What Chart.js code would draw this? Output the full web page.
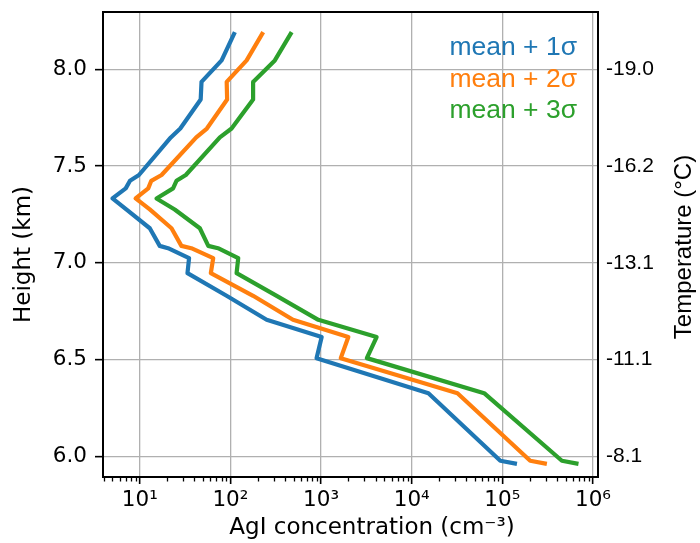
<!DOCTYPE html>
<html>
<head>
<meta charset="utf-8">
<script src="https://cdn.jsdelivr.net/npm/chart.js@4.4.1/dist/chart.umd.min.js"></script>
<style>
  html, body { margin: 0; padding: 0; background: #ffffff; }
  #wrap { width: 700px; height: 543px; }
</style>
</head>
<body>
<div id="wrap"><canvas id="chart" width="700" height="543"></canvas></div>
<script>
// Model levels (km) and AgI concentration profiles (cm^-3)
const heightsKm = [8.192, 8.046, 7.935, 7.844, 7.694, 7.648, 7.454, 7.424, 7.385, 7.333, 7.276,
                   7.179, 7.088, 7.076, 7.025, 6.947, 6.830, 6.706, 6.617, 6.508, 6.327, 5.978, 5.962];
const meanPlus1Sigma = [112, 80, 48, 47, 28, 22, 9.8, 7.8, 7.0, 5.0, 7.1,
                        12.9, 16.6, 20.5, 35, 33.6, 90.7, 251, 1016, 892, 15300, 95000, 145000];
const meanPlus2Sigma = [230, 151, 91, 92, 55, 42, 17.4, 13.4, 12.4, 9.0, 12.9,
                        22.4, 28.8, 37, 64.6, 60.8, 178, 490, 2000, 1650, 32000, 203000, 310000];
const meanPlus3Sigma = [474, 309, 178, 178, 103, 76.5, 32.2, 25.4, 23.3, 15.3, 24.3,
                        46, 57, 73, 122, 117, 324, 933, 4100, 3200, 63000, 454000, 692000];

const seriesLabels = ['mean + 1σ', 'mean + 2σ', 'mean + 3σ'];
const seriesColors = ['#1f77b4', '#ff7f0e', '#2ca02c'];

// Axis ticks and titles
const heightTicks = [6.0, 6.5, 7.0, 7.5, 8.0];
const temperatureLabels = ['-8.1', '-11.1', '-13.1', '-16.2', '-19.0'];
const concTicks = [1e1, 1e2, 1e3, 1e4, 1e5, 1e6];
const concTickLabels = ['10¹', '10²', '10³', '10⁴', '10⁵', '10⁶'];
const xTitle = 'AgI concentration (cm⁻³)';
const yTitle = 'Height (km)';
const y2Title = 'Temperature (°C)';

const X_MIN = 3.93, X_MAX = 1.136e6;
const Y_MIN = 5.894, Y_MAX = 8.296;

const DEJAVU = "'DejaVu Sans', sans-serif";
const ARIAL = "'Liberation Sans', Arial, sans-serif";

function profile(values) {
  return values.map((v, i) => ({ x: v, y: heightsKm[i] }));
}

const profiles = [meanPlus1Sigma, meanPlus2Sigma, meanPlus3Sigma];
const datasets = profiles.map((vals, i) => ({
  label: seriesLabels[i],
  data: profile(vals),
  borderColor: seriesColors[i],
  backgroundColor: seriesColors[i],
  borderWidth: 4.2,
  borderJoinStyle: 'round',
  borderCapStyle: 'butt',
  pointRadius: 0,
  showLine: true,
  fill: false,
  tension: 0,
  order: 2 - i
}));

function rotatedText(ctx, text, x, y) {
  ctx.save();
  ctx.translate(x, y);
  ctx.rotate(-Math.PI / 2);
  ctx.fillText(text, 0, 0);
  ctx.restore();
}

// Minor ticks on the log axis, frame, legend text and axis titles
const decorations = {
  id: 'decorations',
  afterDraw(chart) {
    const { ctx, chartArea: a } = chart;
    const xs = chart.scales.x;
    ctx.save();
    // minor ticks
    ctx.strokeStyle = '#000';
    ctx.lineWidth = 1.3;
    for (let k = 0; k <= 6; k++) {
      for (let m = 2; m <= 9; m++) {
        const v = m * Math.pow(10, k);
        if (v < X_MIN || v > X_MAX) continue;
        const px = Math.round(xs.getPixelForValue(v)) + 0.5;
        ctx.beginPath();
        ctx.moveTo(px, a.bottom);
        ctx.lineTo(px, a.bottom + 4.5);
        ctx.stroke();
      }
    }
    // frame
    ctx.lineWidth = 2;
    ctx.strokeRect(a.left, a.top, a.right - a.left, a.bottom - a.top);

    // legend
    ctx.font = "26.5px " + ARIAL;
    ctx.textAlign = 'right';
    ctx.textBaseline = 'middle';
    const legendY = [48, 80, 111];
    chart.data.datasets.forEach((ds, i) => {
      ctx.fillStyle = ds.borderColor;
      ctx.fillText(ds.label, 577, legendY[i]);
    });

    // axis titles
    ctx.fillStyle = '#000';
    ctx.textAlign = 'center';
    ctx.textBaseline = 'alphabetic';
    ctx.font = "23px " + DEJAVU;
    ctx.fillText(xTitle, 372, 534);
    rotatedText(ctx, yTitle, 30, 254.5);
    ctx.font = "24px " + ARIAL;
    rotatedText(ctx, y2Title, 691, 247);
    ctx.restore();
  }
};

new Chart(document.getElementById('chart'), {
  type: 'scatter',
  data: { datasets },
  plugins: [decorations],
  options: {
    responsive: false,
    devicePixelRatio: 1,
    animation: false,
    events: [],
    layout: { padding: { top: 12, left: 0, right: 0, bottom: 0 } },
    plugins: {
      legend: { display: false },
      tooltip: { enabled: false }
    },
    scales: {
      x: {
        type: 'logarithmic',
        position: 'bottom',
        min: X_MIN,
        max: X_MAX,
        bounds: 'data',
        afterBuildTicks(scale) {
          scale.ticks = concTicks.map(v => ({ value: v }));
        },
        afterFit(scale) {
          scale.height = 66;
          scale.paddingLeft = 0;
          scale.paddingRight = 0;
        },
        ticks: {
          autoSkip: false,
          maxRotation: 0,
          minRotation: 0,
          padding: 4,
          color: '#000',
          font: { family: DEJAVU, size: 21.5 },
          callback(value, index) { return concTickLabels[index]; }
        },
        grid: {
          color: '#b0b0b0',
          lineWidth: 1.3,
          tickColor: '#000',
          tickLength: 7,
          tickWidth: 1.6
        },
        border: { display: false },
        title: { display: false }
      },
      y: {
        type: 'linear',
        position: 'left',
        min: Y_MIN,
        max: Y_MAX,
        bounds: 'data',
        afterBuildTicks(scale) {
          scale.ticks = heightTicks.map(v => ({ value: v }));
        },
        afterFit(scale) {
          scale.width = 103;
          scale.paddingTop = 0;
          scale.paddingBottom = 0;
        },
        ticks: {
          padding: 8,
          color: '#000',
          font: { family: DEJAVU, size: 21.5 },
          callback(value) { return Number(value).toFixed(1); }
        },
        grid: {
          color: '#b0b0b0',
          lineWidth: 1.3,
          tickColor: '#000',
          tickLength: 8,
          tickWidth: 1.6
        },
        border: { display: false },
        title: { display: false }
      },
      y2: {
        type: 'linear',
        position: 'right',
        min: Y_MIN,
        max: Y_MAX,
        bounds: 'data',
        afterBuildTicks(scale) {
          scale.ticks = heightTicks.map(v => ({ value: v }));
        },
        afterFit(scale) {
          scale.width = 102;
          scale.paddingTop = 0;
          scale.paddingBottom = 0;
        },
        ticks: {
          padding: 8,
          color: '#000',
          font: { family: ARIAL, size: 21 },
          callback(value, index) { return temperatureLabels[index]; }
        },
        grid: { drawOnChartArea: false, drawTicks: false },
        border: { display: false }
      }
    }
  }
});
</script>
</body>
</html>
